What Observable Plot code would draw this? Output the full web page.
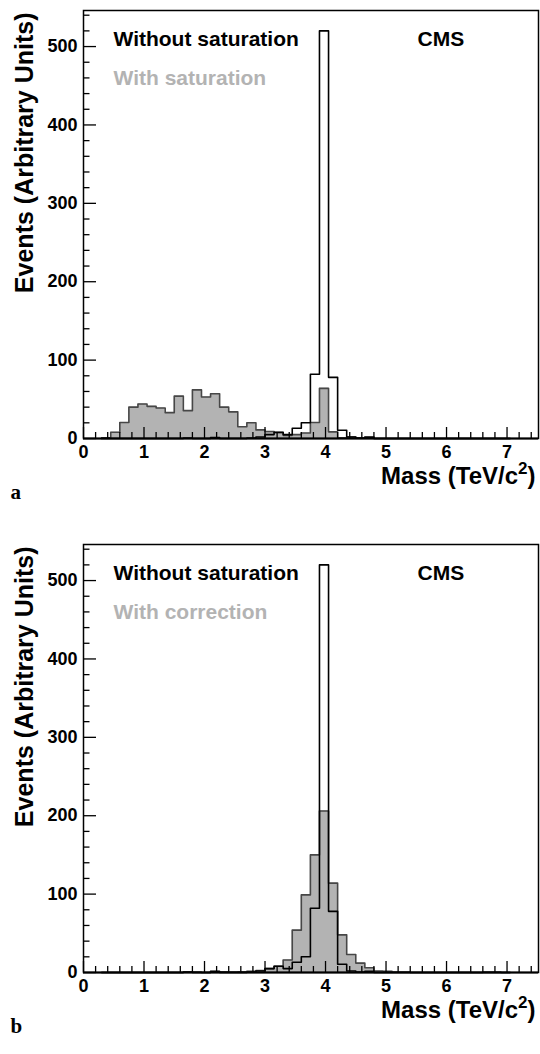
<!DOCTYPE html>
<html>
<head>
<meta charset="utf-8">
<script src="https://cdn.jsdelivr.net/npm/d3@7"></script>
<script src="https://cdn.jsdelivr.net/npm/@observablehq/plot@0.6"></script>
<style>
  html, body { margin: 0; padding: 0; background: #fff; }
  #charts svg { display: block; }
</style>
</head>
<body>
<div id="charts"></div>
<script>
// ---- data ----
const binWidth = 0.15;
const binLow = [0.30,0.45,0.60,0.75,0.90,1.05,1.20,1.35,1.50,1.65,1.80,1.95,2.10,2.25,2.40,2.55,2.70,2.85,3.00,3.15,3.30,3.45,3.60,3.75,3.90,4.05,4.20,4.35,4.50,4.65,4.80,4.95,5.10,5.25,5.40,5.55,5.70,5.85,6.00,6.15,6.30,6.45,6.60,6.75,6.90];
const withoutSaturation = [0,0,0,0,0,0,0,0,0,0.5,0,0,1.3,0,0,0,0.5,2,5,8,5,13,20,82,520,78,10.5,2,0.5,1.5,0,0,0,0,0,0,0,0,0,0,0,0,0,0,0];
const withSaturation = [1,8,20.5,40,44,41,39,33,54,35.5,62,53,57,40,34,15,20,11,9,7.5,4,5,7,20.5,64,8.5,1,2,0.5,2,0,0,0,0,0,0,0,0,0,0,0,0,0,0,0];
const withCorrection = [0,0,0,0,0,0,0,0,0,0.5,0.5,0,1.5,1,0.5,1,1.5,2.5,5,8,16,54,99,150,206,114,48,23,12,6,2,1.5,0.5,0.5,0,0,0,0,0,0,0,0,0.5,0.5,0];

const xMajor = [0,1,2,3,4,5,6,7];
const xMinor = [0.2,0.4,0.6,0.8,1.2,1.4,1.6,1.8,2.2,2.4,2.6,2.8,3.2,3.4,3.6,3.8,4.2,4.4,4.6,4.8,5.2,5.4,5.6,5.8,6.2,6.4,6.6,6.8,7.2,7.4];
const yMajor = [0,100,200,300,400,500];
const yMinor = [20,40,60,80,120,140,160,180,220,240,260,280,320,340,360,380,420,440,460,480,520,540];

const xTitle = "Mass (TeV/c2)";
const yTitle = "Events (Arbitrary Units)";
const legendBlack = "Without saturation";
const experiment = "CMS";

// ---- helpers ----
function outline(vals) {
  const pts = [{x: binLow[0], y: 0}];
  binLow.forEach((x, i) => pts.push({x, y: vals[i]}));
  pts.push({x: binLow[binLow.length - 1] + binWidth, y: 0});
  return pts;
}

const W = 540, ML = 83, MR = 2, MT = 10, FH = 428;
const FW = W - ML - MR;

function panel(grayVals, grayLabel, panelLetter, height) {
  const grayPts = outline(grayVals);
  const openPts = outline(withoutSaturation);
  const svg = Plot.plot({
    width: W, height,
    marginLeft: ML, marginRight: MR, marginTop: MT, marginBottom: height - MT - FH,
    x: {domain: [0, 7.52]},
    y: {domain: [0, 546]},
    style: {fontFamily: "'Liberation Sans', Arial, Helvetica, sans-serif", fontWeight: "bold", background: "white", color: "black"},
    marks: [
      Plot.areaY(grayPts, {x: "x", y: "y", curve: "step-after", fill: "#b3b3b3"}),
      Plot.line(grayPts, {x: "x", y: "y", curve: "step-after", stroke: "#474747", strokeWidth: 1.6}),
      Plot.line(openPts, {x: "x", y: "y", curve: "step-after", stroke: "#000", strokeWidth: 1.6}),
      Plot.frame({stroke: "#000", strokeWidth: 1.5}),
      Plot.ruleY([0], {stroke: "#000", strokeWidth: 2}),
      Plot.ruleX(xMajor, {insetTop: FH - 11, stroke: "#000", strokeWidth: 1.3}),
      Plot.ruleX(xMinor, {insetTop: FH - 6, stroke: "#000", strokeWidth: 1.3}),
      Plot.ruleY(yMajor, {insetRight: FW - 13, stroke: "#000", strokeWidth: 1.3}),
      Plot.ruleY(yMinor, {insetRight: FW - 6.5, stroke: "#000", strokeWidth: 1.3}),
      Plot.axisX(xMajor, {tickSize: 0, tickPadding: 7, fontSize: 18, label: null, tickFormat: d => String(d)}),
      Plot.axisY(yMajor, {tickSize: 0, tickPadding: 6, fontSize: 18, label: null, tickFormat: d => String(d)}),
      Plot.text([yTitle], {frameAnchor: "top-left", rotate: -90, textAnchor: "end", lineAnchor: "bottom", dx: -51, dy: 2, fontSize: 25, fill: "#000"}),
      Plot.text([xTitle], {frameAnchor: "bottom-right", textAnchor: "end", lineAnchor: "bottom", dx: -3, dy: 45, fontSize: 24, fill: "#000"}),
      Plot.text([legendBlack], {frameAnchor: "top-left", textAnchor: "start", lineAnchor: "bottom", dx: 30, dy: 35, fontSize: 21, fill: "#000"}),
      Plot.text([grayLabel], {frameAnchor: "top-left", textAnchor: "start", lineAnchor: "bottom", dx: 30, dy: 74, fontSize: 21, fill: "#b3b3b3"}),
      Plot.text([experiment], {frameAnchor: "top-left", textAnchor: "start", lineAnchor: "bottom", dx: 334, dy: 35, fontSize: 21, fill: "#000"}),
      Plot.text([panelLetter], {frameAnchor: "bottom-left", textAnchor: "start", lineAnchor: "bottom", dx: -73, dy: 60, fontSize: 21, fill: "#000", fontFamily: "'Liberation Serif', 'DejaVu Serif', serif"})
    ]
  });
  // superscript for c^2
  svg.querySelectorAll("text").forEach(t => {
    if (t.textContent === xTitle) {
      while (t.firstChild) t.removeChild(t.firstChild);
      const ns = "http://www.w3.org/2000/svg";
      const a = document.createElementNS(ns, "tspan"); a.textContent = "Mass (TeV/c";
      const b = document.createElementNS(ns, "tspan"); b.textContent = "2"; b.setAttribute("dy", "-10"); b.setAttribute("font-size", "17");
      const c = document.createElementNS(ns, "tspan"); c.textContent = ")"; c.setAttribute("dy", "10");
      t.appendChild(a); t.appendChild(b); t.appendChild(c);
    }
  });
  return svg;
}

const host = document.getElementById("charts");
host.appendChild(panel(withSaturation, "With saturation", "a", 534));
host.appendChild(panel(withCorrection, "With correction", "b", 520));
</script>
</body>
</html>
